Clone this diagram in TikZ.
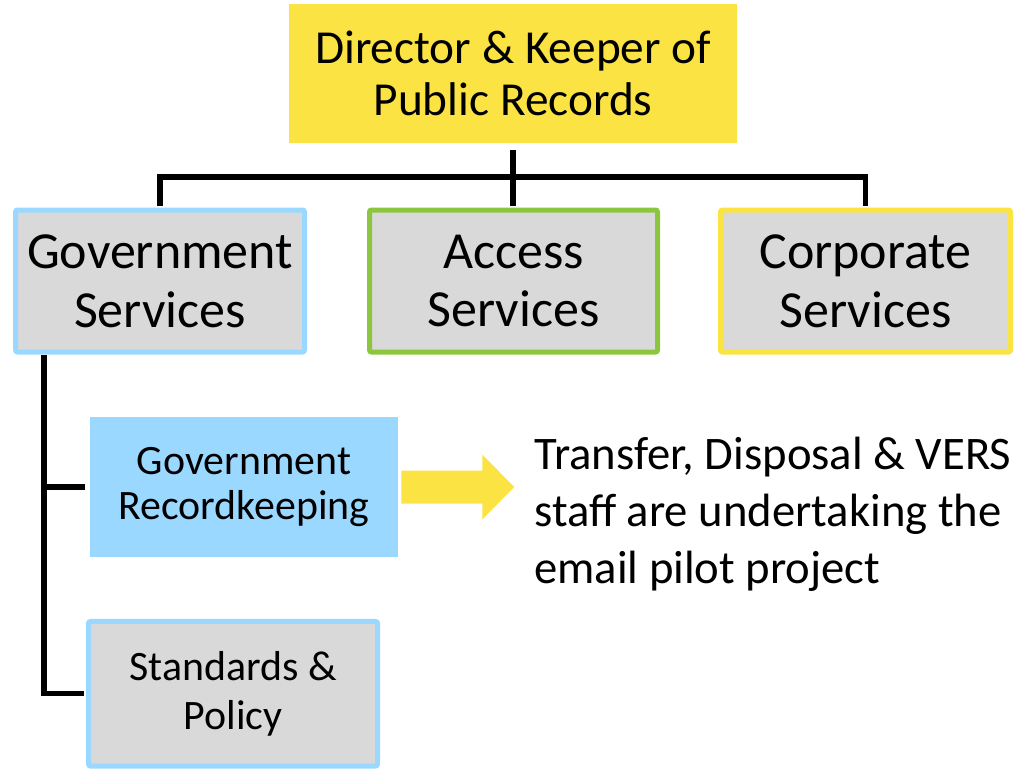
\documentclass[tikz,border=0pt]{standalone}
\usepackage{fontspec}
\setmainfont{Carlito}
\usetikzlibrary{positioning}
\definecolor{headyellow}{HTML}{FCE344}
\definecolor{unitgrey}{HTML}{D9D9D9}
\definecolor{unitblue}{HTML}{9AD8FF}
\definecolor{unitgreen}{HTML}{8CC63F}
\tikzset
{
    headbox/.style  = {fill=headyellow, align=center, inner sep=0pt, minimum width=336pt, minimum height=104.25pt, font=\fontsize{35.5}{38.5}\selectfont},
    unitbox/.style  = {fill=unitgrey, line width=3.75pt, rounded corners=1.5pt, align=center, inner sep=0pt, minimum height=106.5pt, font=\fontsize{39}{44}\selectfont},
    teambox/.style  = {align=center, inner sep=0pt, minimum width=231pt, minimum height=105pt},
    link/.style     = {line width=3.9pt, draw=black}
}

\begin{document}
\begin{tikzpicture}[x=0.75pt, y=-0.75pt]
\useasboundingbox (0,0) rectangle (1027,768);
% director
\node[headbox] (dir) at (513,73.5) {Director \& Keeper of\\Public Records};
% branches
\node[unitbox, draw=unitblue, minimum width=216.75pt] (gov) at (160,281) {Government\\Services};
\node[unitbox, draw=unitgreen, minimum width=216pt] (acc) at (513.5,281) {Access\\Services};
\node[unitbox, draw=headyellow, minimum width=217.5pt] (corp) at (865.5,281) {Corporate\\Services};
% teams under government services
\node[teambox, fill=unitblue, font=\fontsize{31.4}{33.5}\selectfont] (gr) at (244,487) {Government\\Recordkeeping};
\node[teambox, fill=unitgrey, draw=unitblue, line width=3.75pt, rounded corners=1.5pt, minimum width=216.75pt, minimum height=108.4pt, font=\fontsize{31.4}{36.5}\selectfont] (std) at (233,693.75) {Standards \&\\Policy};
\node[anchor=base west, align=left, inner sep=0pt, font=\fontsize{35}{42.4}\selectfont] (note) at (534,583)
  {Transfer, Disposal \& VERS\\staff are undertaking the\\email pilot project};

\coordinate (bus) at (513,177);
\coordinate (spine) at (44,355);
\draw[link] ([yshift=-5.25pt]dir.south) -- ([yshift=1.5pt]dir.south |- acc.north);
\draw[link] ([yshift=1.5pt]gov.north) |- (bus) -| ([yshift=1.5pt]corp.north);
\draw[link] (spine) |- ([xshift=-3.75pt]gr.west);
\draw[link] (spine) |- ([xshift=-1.5pt]std.west);
% arrow to the note
\fill[headyellow] ([xshift=2.25pt]gr.east) ++(0,-16.5) -- ++(81,0) -- ++(0,-16) -- ++(32,32.5)
  -- ++(-32,32.5) -- ++(0,-16) -- ++(-81,0) -- cycle;
\end{tikzpicture}
\end{document}
